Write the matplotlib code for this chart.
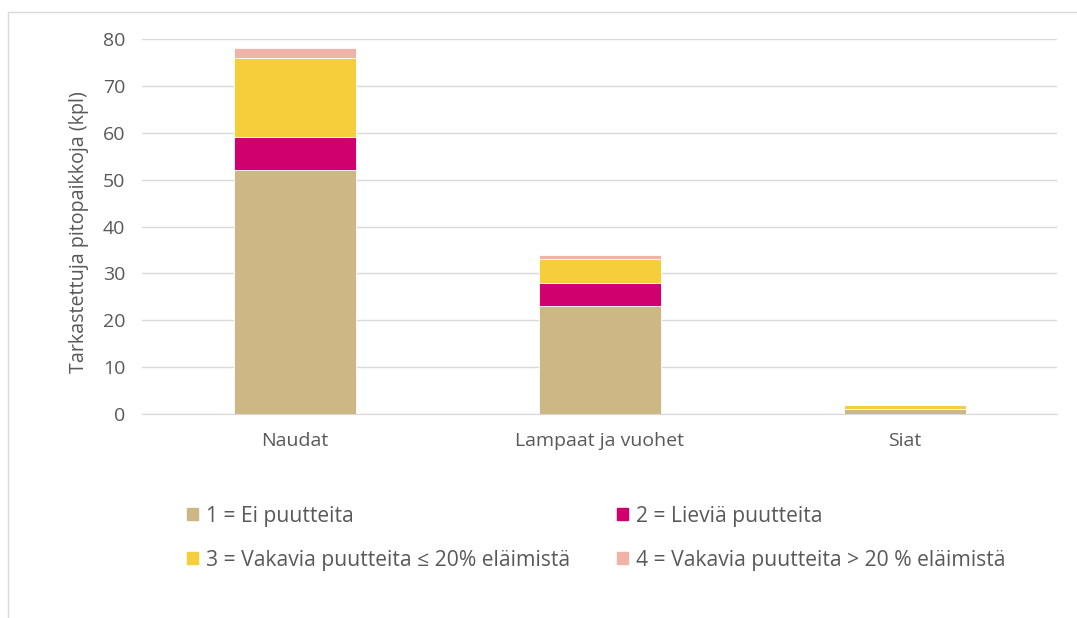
import matplotlib.pyplot as plt
from matplotlib.patches import Patch, Rectangle

categories = ["Naudat", "Lampaat ja vuohet", "Siat"]
ei_puutteita = [52, 23, 1]
lievia = [7, 5, 0]
vakavia_alle = [17, 5, 1]
vakavia_yli = [2, 1, 0]

labels = [
    "1 = Ei puutteita",
    "2 = Lieviä puutteita",
    "3 = Vakavia puutteita ≤ 20% eläimistä",
    "4 = Vakavia puutteita > 20 % eläimistä",
]
colors = ["#CDB785", "#D0006F", "#F6CD3A", "#F0B3A5"]

plt.rcParams["font.family"] = ["Open Sans", "DejaVu Sans"]

fig = plt.figure(figsize=(10.77, 6.18), dpi=100)
ax = fig.add_axes([142 / 1077, 1 - 414 / 618, (1057 - 142) / 1077, (414 - 39) / 618])

x = range(len(categories))
bottom = [0] * len(categories)
series = [ei_puutteita, lievia, vakavia_alle, vakavia_yli]
for vals, col, lab in zip(series, colors, labels):
    ax.bar(x, vals, width=0.4, bottom=bottom, color=col, edgecolor="white",
           linewidth=0.6, label=lab, zorder=3)
    bottom = [b + v for b, v in zip(bottom, vals)]

ax.set_xlim(-0.5, 2.5)
ax.set_ylim(0, 80)
ax.set_yticks(range(0, 81, 10))
ax.set_xticks(list(x))
ax.set_xticklabels(categories)
ax.grid(axis="y", color="#D9D9D9", linewidth=1, zorder=0)
for s in ["top", "right", "left"]:
    ax.spines[s].set_visible(False)
ax.spines["bottom"].set_color("#D9D9D9")
ax.tick_params(length=0, labelsize=14, colors="#595959")
ax.tick_params(axis="x", pad=13)
ax.tick_params(axis="y", pad=12)
ax.set_ylabel("Tarkastettuja pitopaikkoja (kpl)", fontsize=14.2, color="#595959",
              labelpad=10, y=0.485)

handles = [Patch(color=c) for c in colors]
order = [0, 2, 1, 3]
fig.legend([handles[i] for i in order], [labels[i] for i in order],
           ncol=2, loc="upper left", bbox_to_anchor=(176 / 1077, 1 - 495 / 618),
           frameon=False, fontsize=15.2, labelcolor="#595959", borderpad=0,
           handlelength=0.52, handleheight=0.52, handletextpad=0.38,
           columnspacing=2.25, labelspacing=1.1)

fig.patches.append(Rectangle((8 / 1077, -0.1), 1.2, 1 - 12 / 618 + 0.1,
                             transform=fig.transFigure, fill=False,
                             edgecolor="#D9D9D9", linewidth=1))

fig.savefig("out.png", dpi=100)
